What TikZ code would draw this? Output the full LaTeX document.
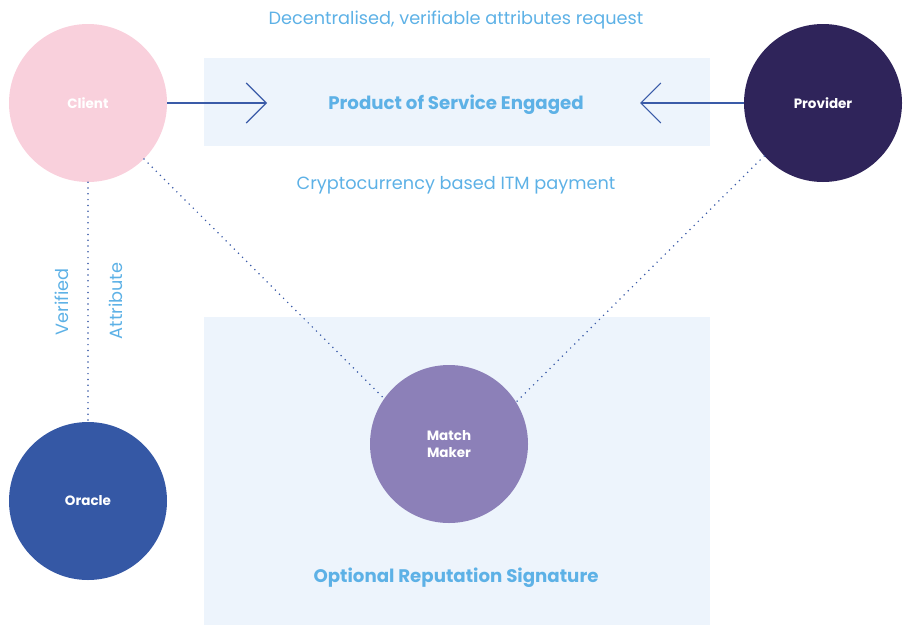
\documentclass[tikz,border=0pt]{standalone}
\usepackage{fontspec}
\setmainfont{Poppins}
\usepackage{tikz}
\usetikzlibrary{arrows.meta}
\definecolor{clientpink}{HTML}{F9D0DC}
\definecolor{providerink}{HTML}{2F245A}
\definecolor{oracleblue}{HTML}{3558A5}
\definecolor{matchlilac}{HTML}{8C80B8}
\definecolor{bandblue}{HTML}{EDF4FC}
\definecolor{noteblue}{HTML}{5DB1E6}
\definecolor{lineblue}{HTML}{3A5BA8}

\begin{document}
\begin{tikzpicture}[
x=1pt, y=-1pt,
    actor/.style = {circle, minimum size=158pt, inner sep=0pt,% parties of the exchange
                    text=white, align=center,
                    font=\bfseries\fontsize{13.5}{17}\selectfont},
     band/.style = {rectangle, fill=bandblue, inner sep=0pt},% light boxes
     note/.style = {text=noteblue, font=\fontsize{17.7}{20}\selectfont},
  heading/.style = {text=noteblue, font=\bfseries\fontsize{18.2}{20}\selectfont},
     link/.style = {draw=lineblue, line width=1.7pt, line cap=round,
                    dash pattern=on 0pt off 5.8pt},
     push/.style = {draw=lineblue, line width=1.1pt,
                    -{Straight Barb[length=20pt,width=40pt]}},
                        ]
\useasboundingbox (0,0) rectangle (912,640);
% boxes
\node[band, minimum width=506pt, minimum height=88pt] (Engaged) at (457,102) {};
\node[band, minimum width=506pt, minimum height=308pt] (Reputation) at (457,471) {};
\node[heading] (EngagedText) at (456,105) {Product of Service Engaged};
\node[heading] (ReputationText) at (456,578) {Optional Reputation Signature};
% notes
\node[note] (Request) at (456,20) {Decentralised, verifiable attributes request};
\node[note] (Payment) at (456,185) {Cryptocurrency based ITM payment};
\node[note, rotate=90] (Verified) at (62,302) {Verified};
\node[note, rotate=90] (Attribute) at (116,301) {Attribute};
% parties
\node[actor, fill=clientpink] (Client) at (88,103) {Client};
\node[actor, fill=providerink] (Provider) at (823,103) {Provider};
\node[actor, fill=oracleblue] (Oracle) at (88,501) {Oracle};
\node[actor, fill=matchlilac] (Match) at (449,444) {Match\\Maker};
% connectors
\coordinate (ClientTip) at (267,103);
\coordinate (ProviderTip) at (640,103);
\draw[push] (Client.east) -- (ClientTip);
\draw[push] (Provider.west) -- (ProviderTip);
\draw[link] (Client.south) -- (Oracle.north);
\draw[link] (Client.-45) -- (Match.145);
\draw[link] (Provider.222) -- (Match.32);
\end{tikzpicture}
\end{document}
